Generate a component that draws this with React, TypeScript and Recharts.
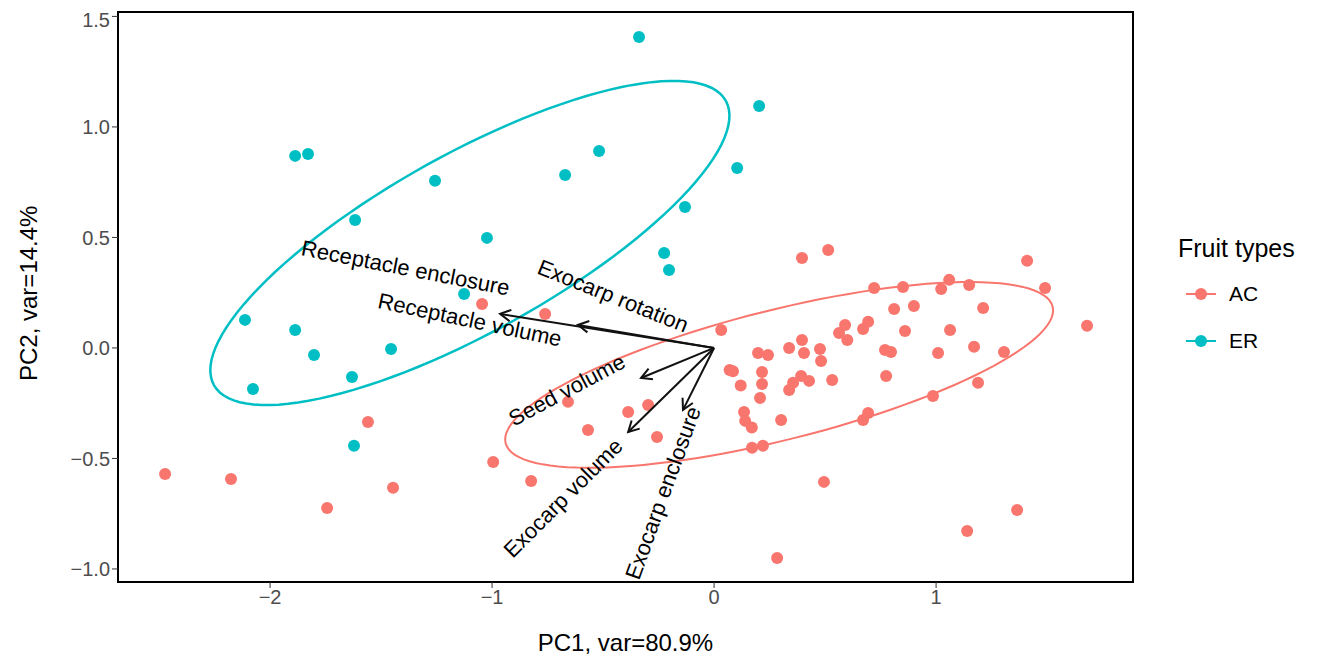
import React from 'react';
import { ScatterChart, Scatter, XAxis, YAxis, ReferenceArea } from 'recharts';

const erPoints = [
  [-0.338,1.407],[0.203,1.095],[-1.887,0.869],[-1.829,0.878],[-0.518,0.891],[-0.671,0.783],
  [-1.257,0.756],[0.104,0.814],[-0.131,0.638],[-1.617,0.579],[-1.023,0.498],[-0.225,0.43],
  [-0.203,0.353],[-1.126,0.244],[-2.113,0.127],[-1.887,0.081],[-1.802,-0.032],[-1.455,-0.005],
  [-1.631,-0.131],[-2.077,-0.186],[-1.622,-0.443],
].map(([x, y]) => ({ x, y }));

const acPoints = [
  [-2.473,-0.57],[-2.176,-0.593],[-1.743,-0.724],[-1.446,-0.633],[-1.559,-0.335],[-0.995,-0.516],
  [-0.824,-0.602],[-1.045,0.199],[-0.761,0.154],[-0.658,-0.244],[-0.568,-0.371],[-0.387,-0.29],
  [-0.297,-0.258],[-0.257,-0.403],[0.032,0.081],[0.396,0.407],[0.514,0.443],[1.41,0.394],
  [1.491,0.271],[1.68,0.1],[1.365,-0.733],[1.14,-0.828],[0.284,-0.95],[0.495,-0.606],
  [0.07,-0.1],[0.085,-0.105],[0.198,-0.023],[0.243,-0.032],[0.12,-0.17],[0.216,-0.109],
  [0.216,-0.163],[0.207,-0.226],[0.135,-0.29],[0.14,-0.33],[0.17,-0.36],[0.171,-0.452],
  [0.22,-0.443],[0.302,-0.326],[0.338,0],[0.396,0.036],[0.405,-0.023],[0.392,-0.127],
  [0.356,-0.158],[0.338,-0.19],[0.428,-0.149],[0.482,-0.059],[0.477,-0.005],[0.532,-0.145],
  [0.563,0.068],[0.59,0.104],[0.6,0.036],[0.671,0.086],[0.694,0.118],[0.721,0.271],
  [0.77,-0.009],[0.797,-0.018],[0.775,-0.127],[0.694,-0.294],[0.671,-0.326],[0.811,0.176],
  [0.851,0.276],[0.86,0.077],[0.9,0.19],[0.986,-0.217],[1.009,-0.023],[1.023,0.267],
  [1.059,0.308],[1.063,0.081],[1.149,0.285],[1.171,0.005],[1.189,-0.158],[1.212,0.181],
  [1.306,-0.018],
].map(([x, y]) => ({ x, y }));

// ellipse: center, semi-major vector, semi-minor vector (data units)
const erEllipse = { c: [-1.1, 0.475], a: [1.153, 0.643], b: [0.194, -0.353] };
const acEllipse = { c: [0.293, -0.122], a: [1.232, 0.309], b: [0.071, -0.285] };

const arrows = [
  { name: 'Receptacle enclosure', x: -0.964, y: 0.154 },
  { name: 'Receptacle volume', x: -0.613, y: 0.104 },
  { name: 'Seed volume', x: -0.329, y: -0.136 },
  { name: 'Exocarp volume', x: -0.387, y: -0.38 },
  { name: 'Exocarp enclosure', x: -0.14, y: -0.28 },
];

const labels = [
  { text: 'Receptacle enclosure', x: -1.39, y: 0.362, angle: 11 },
  { text: 'Receptacle volume', x: -1.1, y: 0.127, angle: 12 },
  { text: 'Exocarp rotation', x: -0.455, y: 0.235, angle: 22 },
  { text: 'Seed volume', x: -0.663, y: -0.19, angle: -28 },
  { text: 'Exocarp volume', x: -0.68, y: -0.679, angle: -45 },
  { text: 'Exocarp enclosure', x: -0.23, y: -0.656, angle: -70 },
];

const xTicks = [-2, -1, 0, 1];
const yTicks = [-1, -0.5, 0, 0.5, 1, 1.5];
const X_DOMAIN = [-2.685, 1.887];
const Y_DOMAIN = [-1.059, 1.52];

function ellipsePts(e: any) {
  const pts = [];
  for (let i = 0; i <= 120; i++) {
    const t = (i / 120) * Math.PI * 2;
    pts.push({
      x: e.c[0] + e.a[0] * Math.cos(t) + e.b[0] * Math.sin(t),
      y: e.c[1] + e.a[1] * Math.cos(t) + e.b[1] * Math.sin(t),
    });
  }
  return pts;
}

const fmtY = (v: number) => {
  const s = Math.abs(v).toFixed(1);
  return v < 0 ? '\u2212' + s : s;
};
const fmtX = (v: number) => (v < 0 ? '\u2212' + Math.abs(v) : String(v));

const ArrowHead = (props: any) => {
  const { cx, cy, payload } = props;
  if (!payload || (payload.x === 0 && payload.y === 0)) return null;
  const dx = payload.x, dy = -payload.y;
  const L = Math.hypot(dx, dy);
  const ux = dx / L, uy = dy / L;
  const len = 12, ang = 0.5;
  const p1x = cx - len * (ux * Math.cos(ang) - uy * Math.sin(ang));
  const p1y = cy - len * (uy * Math.cos(ang) + ux * Math.sin(ang));
  const p2x = cx - len * (ux * Math.cos(-ang) - uy * Math.sin(-ang));
  const p2y = cy - len * (uy * Math.cos(-ang) + ux * Math.sin(-ang));
  return <path d={`M${p1x},${p1y}L${cx},${cy}L${p2x},${p2y}`} stroke="#111" strokeWidth={2} fill="none" />;
};

const LabelShape = (props: any) => {
  const { cx, cy, payload } = props;
  return (
    <text x={cx} y={cy} transform={`rotate(${payload.angle},${cx},${cy})`} textAnchor="middle"
      dominantBaseline="central" fontSize={22} fill="#000" fontFamily="Liberation Sans, Arial, sans-serif">
      {payload.text}
    </text>
  );
};

const Dot = (color: string) => (props: any) => <circle cx={props.cx} cy={props.cy} r={6} fill={color} />;

export default function App() {
  const font = 'Liberation Sans, Arial, sans-serif';
  return (
    <div style={{ position: 'relative', width: 1322, height: 649, fontFamily: font }}>
      <ScatterChart width={1322} height={649} margin={{ top: 4, right: 197, left: 0, bottom: 0 }}>
        <XAxis type="number" dataKey="x" domain={X_DOMAIN} ticks={xTicks} allowDataOverflow
          tickFormatter={fmtX} height={75} axisLine={false} tickSize={6}
          tick={{ fontSize: 20, fill: '#4d4d4d', fontFamily: font }} tickLine={{ stroke: '#333' }}
          label={{ value: 'PC1, var=80.9%', position: 'insideBottom', offset: 6, fontSize: 24, fill: '#000', fontFamily: font }} />
        <YAxis type="number" dataKey="y" domain={Y_DOMAIN} ticks={yTicks} allowDataOverflow
          tickFormatter={fmtY} width={110} axisLine={false} tickSize={6}
          tick={{ fontSize: 20, fill: '#4d4d4d', fontFamily: font }} tickLine={{ stroke: '#333' }}
          label={{ value: 'PC2, var=14.4%', angle: -90, position: 'insideLeft', offset: 20, dy: 84, fontSize: 24, fill: '#000', fontFamily: font }} />
        <ReferenceArea x1={X_DOMAIN[0]} x2={X_DOMAIN[1]} y1={Y_DOMAIN[0]} y2={Y_DOMAIN[1]}
          fill="none" stroke="#000" strokeWidth={2} ifOverflow="visible" />
        <Scatter data={acPoints} shape={Dot('#F8766D')} isAnimationActive={false} />
        <Scatter data={erPoints} shape={Dot('#00BFC4')} isAnimationActive={false} />
        <Scatter data={ellipsePts(erEllipse)} line={{ stroke: '#00BFC4', strokeWidth: 2.5 }} shape={() => null} isAnimationActive={false} />
        <Scatter data={ellipsePts(acEllipse)} line={{ stroke: '#F8766D', strokeWidth: 2 }} shape={() => null} isAnimationActive={false} />
        {arrows.map((a) => (
          <Scatter key={a.name} data={[{ x: 0, y: 0 }, { x: a.x, y: a.y }]}
            line={{ stroke: '#111', strokeWidth: 2 }} shape={ArrowHead} isAnimationActive={false} />
        ))}
        <Scatter data={labels} shape={LabelShape} isAnimationActive={false} />
      </ScatterChart>
      <div style={{ position: 'absolute', left: 1170, top: 226, fontSize: 25, color: '#000' }}>Fruit types</div>
      {[['AC', '#F8766D', 276], ['ER', '#00BFC4', 323]].map(([t, c, top]) => (
        <div key={t as string} style={{ position: 'absolute', left: 1175, top: top as number, height: 20, display: 'flex', alignItems: 'center' }}>
          <svg width={36} height={20}>
            <line x1={3} y1={10} x2={33} y2={10} stroke={c as string} strokeWidth={2} />
            <circle cx={18} cy={10} r={6} fill={c as string} />
          </svg>
          <span style={{ marginLeft: 10, fontSize: 21 }}>{t}</span>
        </div>
      ))}
    </div>
  );
}
